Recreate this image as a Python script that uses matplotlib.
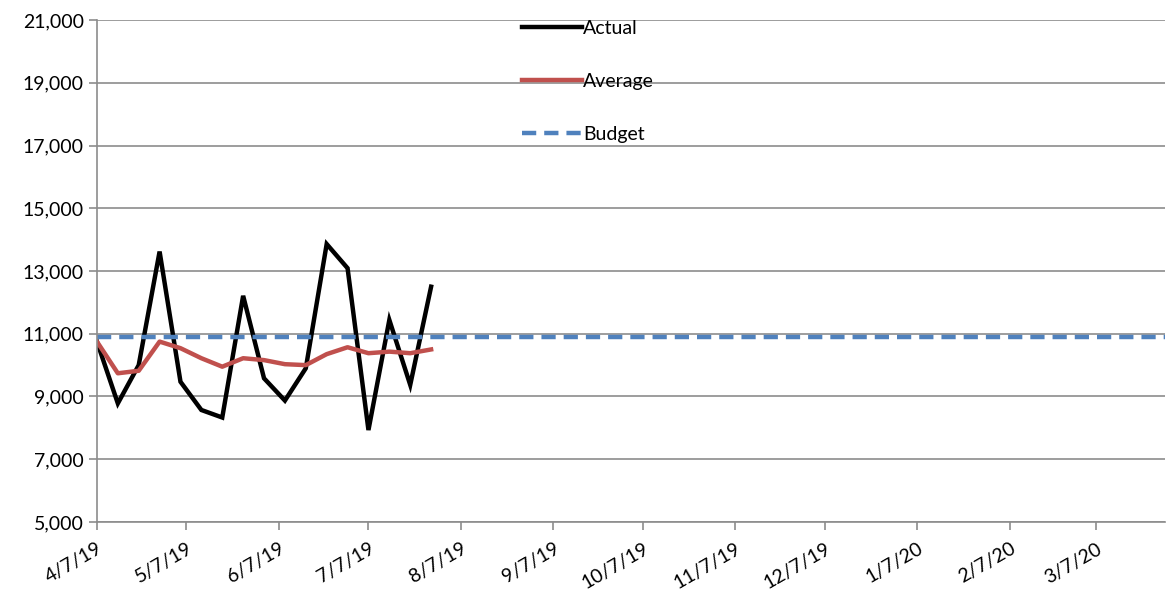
import matplotlib
matplotlib.use("Agg")
import matplotlib.pyplot as plt
import matplotlib.dates as mdates
import matplotlib.ticker as mticker
import pandas as pd

# weekly data
dates = ["2019-04-07", "2019-04-14", "2019-04-21", "2019-04-28", "2019-05-05",
         "2019-05-12", "2019-05-19", "2019-05-26", "2019-06-02", "2019-06-09",
         "2019-06-16", "2019-06-23", "2019-06-30", "2019-07-07", "2019-07-14",
         "2019-07-21", "2019-07-28"]
actual = [10750, 8780, 10000, 13620, 9470, 8570, 8330, 12210, 9580, 8870,
          9900, 13860, 13090, 7930, 11440, 9370, 12500]
average = [10750, 9740, 9820, 10750, 10540, 10220, 9950, 10220, 10160, 10030,
           10000, 10350, 10570, 10380, 10430, 10380, 10500]
budget = 10900
y_ticks = [5000, 7000, 9000, 11000, 13000, 15000, 17000, 19000, 21000]

x_start = "2019-04-07"
x_end = "2020-03-30"

dates = pd.to_datetime(dates)

plt.rcParams['font.family'] = ['Lato', 'DejaVu Sans']

fig = plt.figure(figsize=(11.68, 5.90), dpi=100)
ax = fig.add_axes([0.083, 0.1153, 0.9145, 0.8507])

ax.plot(dates, actual, color='black', lw=3.2, label='Actual', solid_joinstyle='miter')
ax.plot(dates, average, color='#C0504D', lw=3.2, label='Average')
ax.plot(pd.to_datetime([x_start, x_end]), [budget, budget], color='#4F81BD',
        lw=3.2, dashes=(3.2, 1.8), label='Budget')

ax.set_xlim(pd.to_datetime(x_start), pd.to_datetime(x_end))
ax.set_ylim(y_ticks[0], y_ticks[-1])
ax.set_yticks(y_ticks)
ax.yaxis.set_major_formatter(mticker.FuncFormatter(lambda v, p: f"{int(v):,}"))

ax.xaxis.set_major_locator(mdates.MonthLocator(bymonthday=7))
ax.xaxis.set_major_formatter(mticker.FuncFormatter(
    lambda v, p: "{d.month}/{d.day}/{y}".format(d=mdates.num2date(v), y=mdates.num2date(v).strftime("%y"))))

ax.grid(axis='y', color='#8c8c8c', lw=1.2)
ax.set_axisbelow(True)
for s in ['top', 'right']:
    ax.spines[s].set_visible(False)
for s in ['left', 'bottom']:
    ax.spines[s].set_color('#8c8c8c')
    ax.spines[s].set_linewidth(1.2)

ax.tick_params(axis='both', colors='#8c8c8c', labelcolor='black', labelsize=14,
               length=6, width=1.2)
ax.tick_params(axis='x', pad=7)
for lab in ax.get_xticklabels():
    lab.set_rotation(30)
    lab.set_ha('right')
    lab.set_rotation_mode('anchor')

fig.legend(loc='upper left', bbox_to_anchor=(0.4385, 0.983), frameon=False,
           fontsize=14, handlelength=3.1, handletextpad=0.05, labelspacing=1.85,
           borderpad=0)

fig.savefig("out.png", dpi=100)
